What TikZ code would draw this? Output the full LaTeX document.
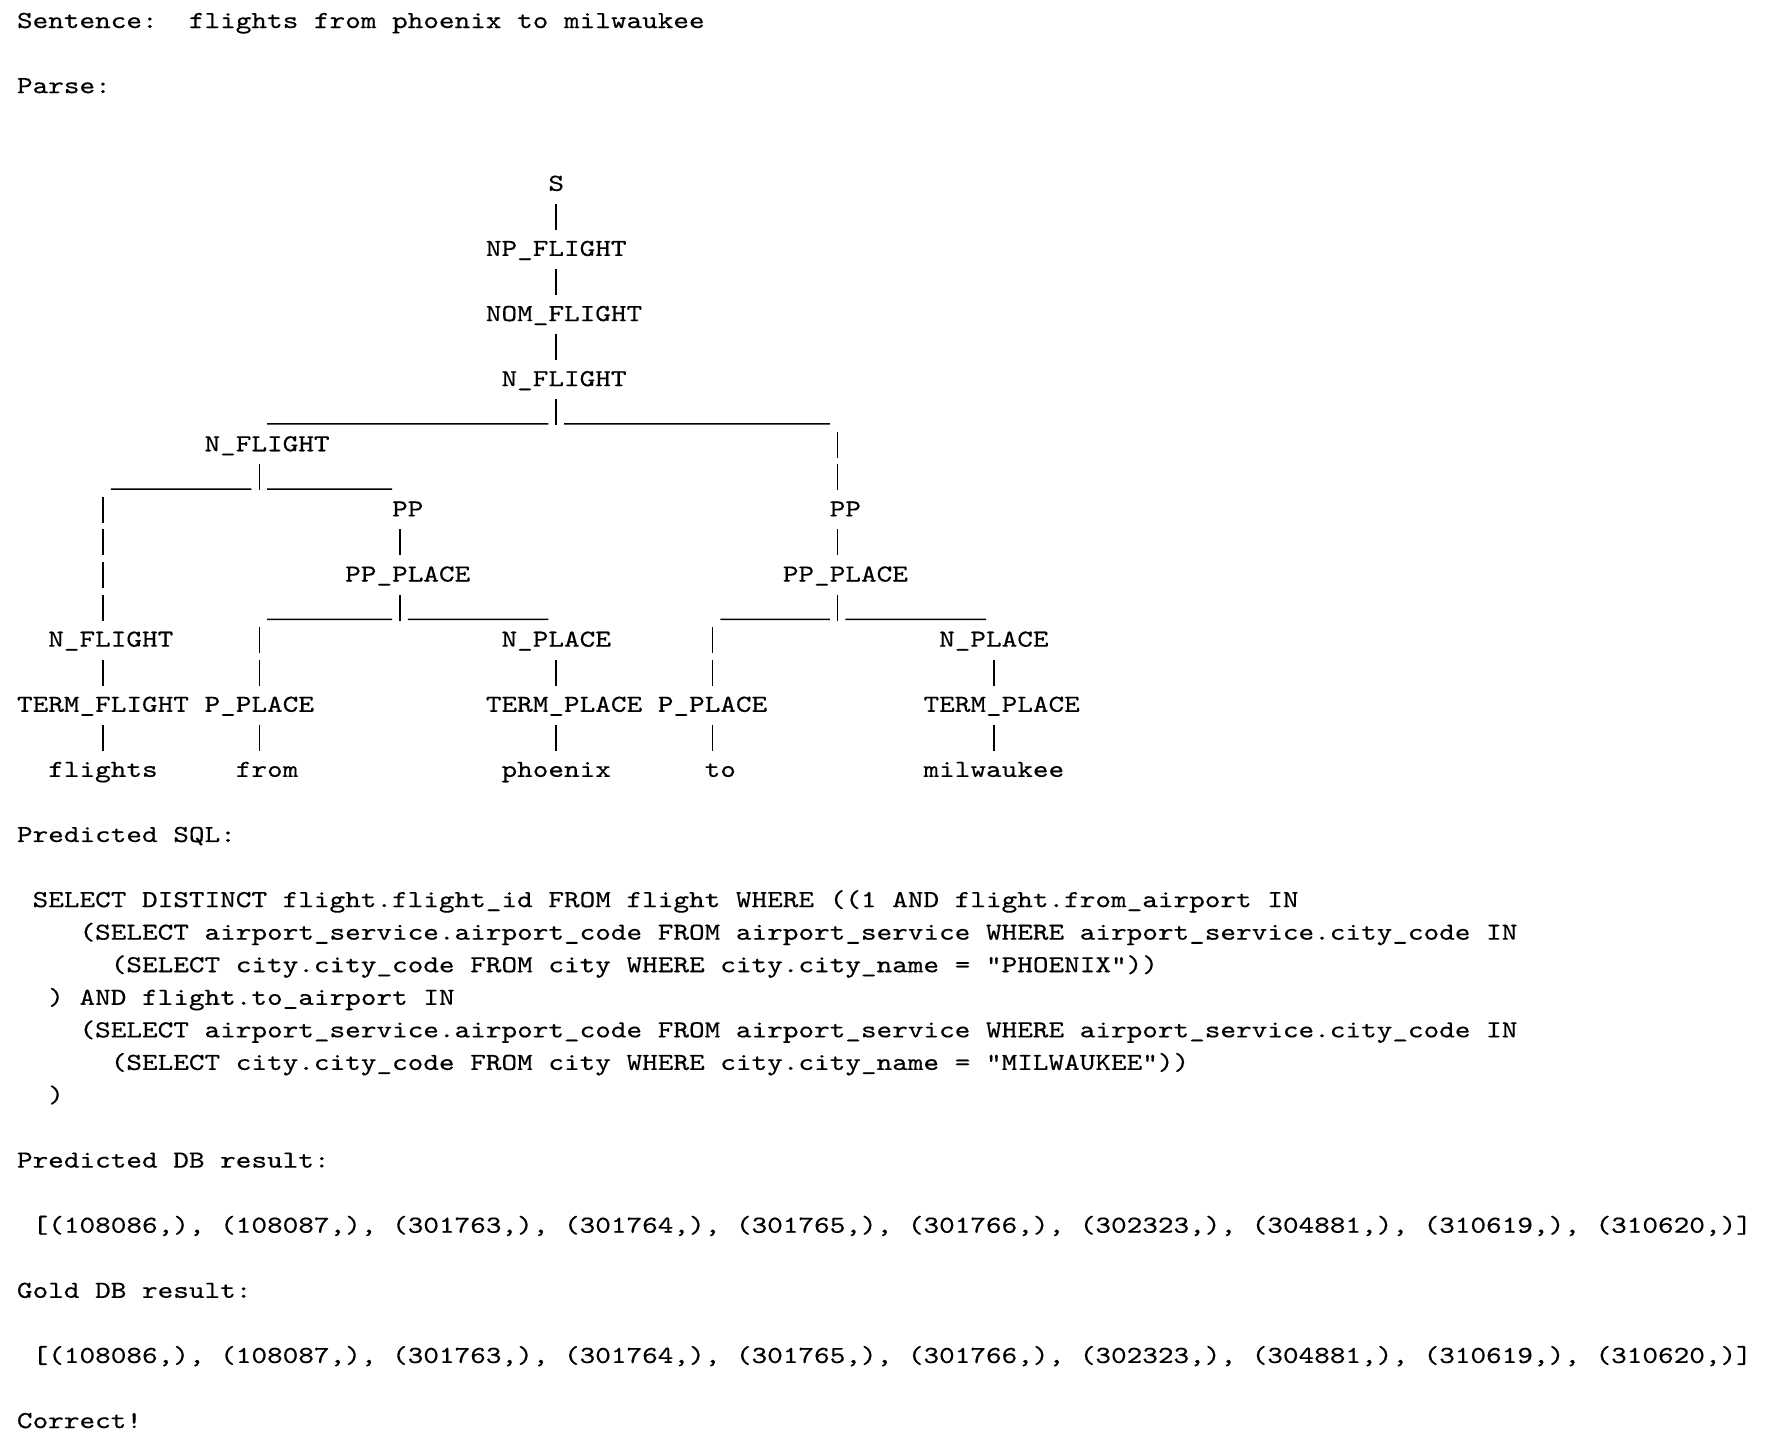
\documentclass[tikz,border=0pt]{standalone}
\usepackage{fontspec}
\setmonofont{lmmono10-regular.otf}[FakeStretch=1.2201, FakeBold=0.35]
\usetikzlibrary{calc}
\frenchspacing
\newcommand\pitchfont{\ttfamily\fontsize{12.2pt}{16.28pt}\selectfont
  \fontdimen2\font=7.815pt\relax
  \fontdimen3\font=0pt\relax
  \fontdimen4\font=0pt\relax}
\tikzset{
  txt/.style={anchor=base west, inner sep=0pt, outer sep=0pt,
    font=\pitchfont, text=black},
  conn/.style={draw=black, line width=0.75pt, line cap=butt,
    dash pattern=on 13.024pt off 3.256pt},
  hrule/.style={draw=black, line width=0.75pt, line cap=butt},
}
\begin{document}
\begin{tikzpicture}[x=7.815pt, y=-16.28pt]
\useasboundingbox (-1.088,-0.860) rectangle (111.902,43.612);

% header
\node[txt] (sent)  at (0,0) {Sentence:\ \ flights from phoenix to milwaukee};
\node[txt] (parse) at (0,2) {Parse:};

% parse tree labels
\node[txt] (s)    at (34,5)  {S};
\node[txt] (np)   at (30,7)  {NP\_FLIGHT};
\node[txt] (nom)  at (30,9)  {NOM\_FLIGHT};
\node[txt] (nf1)  at (31,11) {N\_FLIGHT};
\node[txt] (nf2)  at (12,13) {N\_FLIGHT};
\node[txt] (ppL)  at (24,15) {PP};
\node[txt] (ppR)  at (52,15) {PP};
\node[txt] (pplL) at (21,17) {PP\_PLACE};
\node[txt] (pplR) at (49,17) {PP\_PLACE};
\node[txt] (nf3)  at (2,19)  {N\_FLIGHT};
\node[txt] (npL)  at (31,19) {N\_PLACE};
\node[txt] (npR)  at (59,19) {N\_PLACE};
\node[txt] (tf)   at (0,21)  {TERM\_FLIGHT};
\node[txt] (ppA)  at (12,21) {P\_PLACE};
\node[txt] (tpL)  at (30,21) {TERM\_PLACE};
\node[txt] (ppB)  at (41,21) {P\_PLACE};
\node[txt] (tpR)  at (58,21) {TERM\_PLACE};
\node[txt] (wfl)  at (2,23)  {flights};
\node[txt] (wfrom) at (14,23) {from};
\node[txt] (wphx) at (31,23) {phoenix};
\node[txt] (wto)  at (44,23) {to};
\node[txt] (wmil) at (58,23) {milwaukee};

% parse tree connectors
\draw[conn] ($(s.base west)+(0.5,0.4)$)   -- ($(np.base west)+(4.5,-0.8)$);
\draw[conn] ($(np.base west)+(4.5,0.4)$)  -- ($(nom.base west)+(4.5,-0.8)$);
\draw[conn] ($(nom.base west)+(4.5,0.4)$) -- ($(nf1.base west)+(3.5,-0.8)$);
% nf1 split
\draw[conn]  ($(nf1.base west)+(3.5,0.4)$) -- ($(nf1.base west)+(3.5,1.2)$);
\draw[hrule] ($(nf2.base west)+(4,-0.84)$) -- ($(nf1.base west)+(3,1.16)$);
\draw[hrule] ($(nf1.base west)+(4,1.16)$)  -- ($(ppR.base west)+(0,-2.84)$);
\draw[conn]  ($(ppR.base west)+(0.5,-2.6)$) -- ($(ppR.base west)+(0.5,-0.8)$);
% nf2 split
\draw[conn]  ($(nf2.base west)+(3.5,0.4)$) -- ($(nf2.base west)+(3.5,1.2)$);
\draw[hrule] ($(nf3.base west)+(4,-4.84)$) -- ($(nf2.base west)+(3,1.16)$);
\draw[hrule] ($(nf2.base west)+(4,1.16)$)  -- ($(ppL.base west)+(0,-0.84)$);
\draw[conn]  ($(nf3.base west)+(3.5,-4.6)$) -- ($(nf3.base west)+(3.5,-0.8)$);
% left PP
\draw[conn] ($(ppL.base west)+(0.5,0.4)$) -- ($(pplL.base west)+(3.5,-0.8)$);
\draw[conn]  ($(pplL.base west)+(3.5,0.4)$) -- ($(pplL.base west)+(3.5,1.2)$);
\draw[hrule] ($(ppA.base west)+(4,-2.84)$)  -- ($(pplL.base west)+(3,1.16)$);
\draw[hrule] ($(pplL.base west)+(4,1.16)$)  -- ($(npL.base west)+(3,-0.84)$);
\draw[conn]  ($(ppA.base west)+(3.5,-2.6)$) -- ($(ppA.base west)+(3.5,-0.8)$);
\draw[conn] ($(npL.base west)+(3.5,0.4)$) -- ($(tpL.base west)+(4.5,-0.8)$);
\draw[conn] ($(tpL.base west)+(4.5,0.4)$) -- ($(wphx.base west)+(3.5,-0.8)$);
\draw[conn] ($(ppA.base west)+(3.5,0.4)$) -- ($(wfrom.base west)+(1.5,-0.8)$);
% left N_FLIGHT
\draw[conn] ($(nf3.base west)+(3.5,0.4)$) -- ($(tf.base west)+(5.5,-0.8)$);
\draw[conn] ($(tf.base west)+(5.5,0.4)$)  -- ($(wfl.base west)+(3.5,-0.8)$);
% right PP
\draw[conn] ($(ppR.base west)+(0.5,0.4)$) -- ($(pplR.base west)+(3.5,-0.8)$);
\draw[conn]  ($(pplR.base west)+(3.5,0.4)$) -- ($(pplR.base west)+(3.5,1.2)$);
\draw[hrule] ($(ppB.base west)+(4,-2.84)$)  -- ($(pplR.base west)+(3,1.16)$);
\draw[hrule] ($(pplR.base west)+(4,1.16)$)  -- ($(npR.base west)+(3,-0.84)$);
\draw[conn]  ($(ppB.base west)+(3.5,-2.6)$) -- ($(ppB.base west)+(3.5,-0.8)$);
\draw[conn] ($(npR.base west)+(3.5,0.4)$) -- ($(tpR.base west)+(4.5,-0.8)$);
\draw[conn] ($(tpR.base west)+(4.5,0.4)$) -- ($(wmil.base west)+(4.5,-0.8)$);
\draw[conn] ($(ppB.base west)+(3.5,0.4)$) -- ($(wto.base west)+(0.5,-0.8)$);

% SQL
\node[txt] (sqlh) at (0,25) {Predicted SQL:};
\node[txt] (q1) at (1,27) {SELECT DISTINCT flight.flight\_id FROM flight WHERE ((1 AND flight.from\_airport IN};
\node[txt] (q2) at (4,28) {(SELECT airport\_service.airport\_code FROM airport\_service WHERE airport\_service.city\_code IN};
\node[txt] (q3) at (6,29) {(SELECT city.city\_code FROM city WHERE city.city\_name = "PHOENIX"))};
\node[txt] (q4) at (2,30) {) AND flight.to\_airport IN};
\node[txt] (q5) at (4,31) {(SELECT airport\_service.airport\_code FROM airport\_service WHERE airport\_service.city\_code IN};
\node[txt] (q6) at (6,32) {(SELECT city.city\_code FROM city WHERE city.city\_name = "MILWAUKEE"))};
\node[txt] (q7) at (2,33) {)};

% results
\node[txt] (predh) at (0,35) {Predicted DB result:};
\node[txt] (pred)  at (1,37) {[(108086,), (108087,), (301763,), (301764,), (301765,), (301766,), (302323,), (304881,), (310619,), (310620,)]};
\node[txt] (goldh) at (0,39) {Gold DB result:};
\node[txt] (gold)  at (1,41) {[(108086,), (108087,), (301763,), (301764,), (301765,), (301766,), (302323,), (304881,), (310619,), (310620,)]};
\node[txt] (ok)    at (0,43) {Correct!};
\end{tikzpicture}
\end{document}
